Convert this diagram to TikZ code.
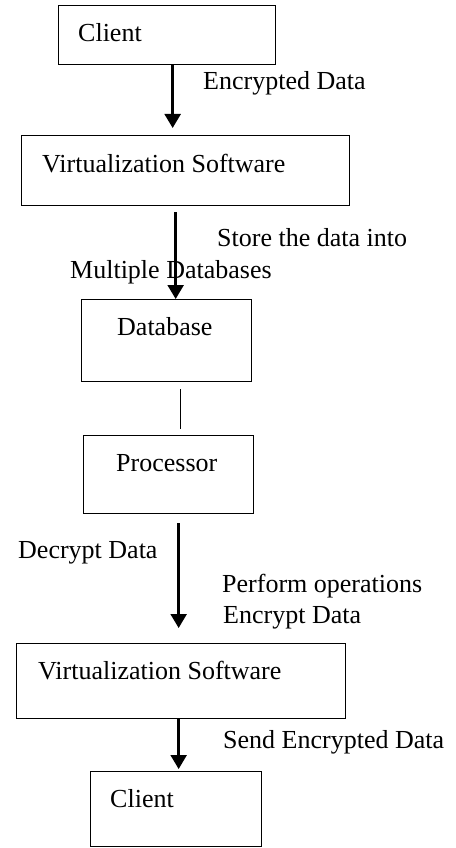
\documentclass[tikz,border=0pt]{standalone}
\usepackage{fontspec}
\setmainfont{Liberation Serif}
\usetikzlibrary{arrows.meta}
\begin{document}
\begin{tikzpicture}[x=1pt,y=-1pt,font=\fontsize{26}{30}\selectfont]
\tikzstyle{box}=[draw,rectangle,line width=1.3pt,anchor=north west,inner sep=0pt]
\tikzstyle{txt}=[anchor=base west,inner sep=0pt]
\tikzstyle{flow}=[line width=2.4pt,-{Triangle[width=16pt,length=14pt]}]
\tikzstyle{link}=[line width=0.8pt]

\useasboundingbox (0,0) rectangle (455,848);

% Draw the boxes
\node[box,minimum width=217pt,minimum height=59pt] (client1) at (58,5) {};
\node[box,minimum width=328pt,minimum height=70pt] (virt1) at (21,135) {};
\node[box,minimum width=170pt,minimum height=82pt] (db) at (81,299) {};
\node[box,minimum width=170pt,minimum height=78pt] (proc) at (83,435) {};
\node[box,minimum width=329pt,minimum height=75pt] (virt2) at (16,643) {};
\node[box,minimum width=171pt,minimum height=75pt] (client2) at (90,771) {};

% Text inside the boxes
\node[txt] (client1-text) at (78,42) {Client};
\node[txt] (virt1-text) at (42,172) {Virtualization Software};
\node[txt] (db-text) at (117,335) {Database};
\node[txt] (proc-text) at (116,471) {Processor};
\node[txt] (virt2-text) at (38,679) {Virtualization Software};
\node[txt] (client2-text) at (110,807) {Client};

% Connect the boxes
\draw[flow] ([xshift=5.5pt]client1.south) -- ([xshift=-13pt,yshift=7pt]virt1.north);
\draw[flow] ([xshift=-10pt,yshift=-6pt]virt1.south) -- ([xshift=9pt]db.north);
\draw[link] ([xshift=14pt,yshift=-7pt]db.south) -- ([xshift=12pt,yshift=6pt]proc.north);
\draw[flow] ([xshift=10pt,yshift=-9pt]proc.south) -- ([xshift=-2.5pt,yshift=15pt]virt2.north);
\draw[flow] ([xshift=-2.5pt]virt2.south) -- ([xshift=2.5pt,yshift=2pt]client2.north);

% Annotate the arrows
\node[txt] (encrypted) at (203,90) {Encrypted Data};
\node[txt] (store) at (217,246) {Store the data into};
\node[txt] (multiple) at (70,278) {Multiple Databases};
\node[txt] (decrypt) at (18,558) {Decrypt Data};
\node[txt] (perform) at (222,592) {Perform operations};
\node[txt] (encrypt) at (223,623) {Encrypt Data};
\node[txt] (send) at (223,748) {Send Encrypted Data};

\end{tikzpicture}
\end{document}
